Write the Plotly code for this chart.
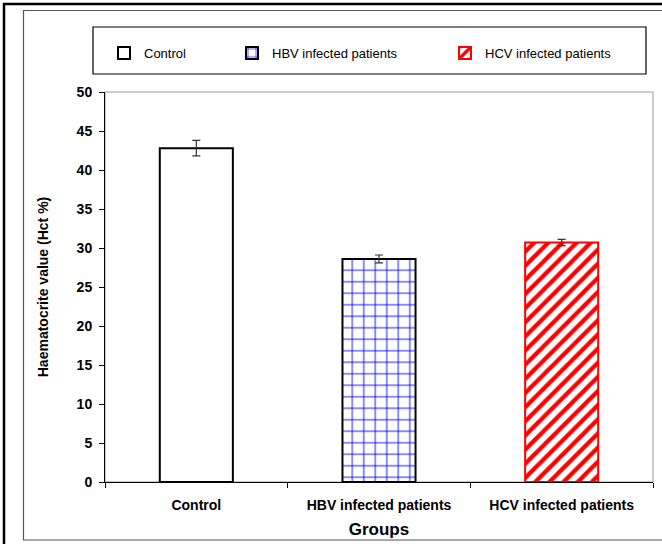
import plotly.graph_objects as go

groups = ["Control", "HBV infected patients", "HCV infected patients"]
values = [42.8, 28.6, 30.7]
errors = [1.0, 0.5, 0.4]
fill_colors = ["white", "white", "white"]
pattern_colors = ["black", "#0000FF", "#FF0000"]
pattern_shapes = ["", "+", "/"]
line_colors = ["black", "black", "#FF0000"]
y_ticks = list(range(0, 51, 5))

FONT = "Liberation Sans, Arial, sans-serif"

fig = go.Figure()
legends = ["legend", "legend2", "legend3"]
pat_sizes = [10, 11.5, 10]
pat_solid = [0.3, 0.15, 0.42]
for i, g in enumerate(groups):
    fig.add_trace(go.Bar(
        x=[g], y=[values[i]], name=g,
        width=0.4,
        marker=dict(
            color=fill_colors[i],
            line=dict(color=line_colors[i], width=2),
            pattern=dict(shape=pattern_shapes[i], fgcolor=pattern_colors[i],
                         bgcolor="white", size=pat_sizes[i], fgopacity=1,
                         solidity=pat_solid[i], fillmode="overlay"),
        ),
        error_y=dict(type="data", array=[errors[i]], color="#333333",
                     thickness=1.2, width=4),
        legend=legends[i],
        showlegend=True,
    ))

W, H = 662, 544
L, R, T, B = 105, 653, 92, 482
pw, ph = R - L, B - T

def px(x):
    return (x - L) / pw

def py(y):
    return (B - y) / ph

leg_common = dict(orientation="h", yanchor="middle", xanchor="left",
                  bgcolor="rgba(0,0,0,0)", borderwidth=0,
                  font=dict(family=FONT, size=13, color="black"),
                  itemwidth=30)

fig.update_layout(
    width=W, height=H,
    margin=dict(l=L, r=W - R, t=T, b=H - B, pad=0),
    paper_bgcolor="white", plot_bgcolor="white",
    font=dict(family=FONT, color="black"),
    legend=dict(x=px(104), y=py(53), **leg_common),
    legend2=dict(x=px(232), y=py(53), **leg_common),
    legend3=dict(x=px(445), y=py(53), **leg_common),
    xaxis=dict(
        showline=True, linecolor="black", linewidth=1,
        ticks="outside", ticklen=5, tickcolor="black", tickson="boundaries",
        tickfont=dict(family=FONT, size=14, color="black", weight="bold"),
        ticklabelstandoff=10,
        title=dict(text="<b>Groups</b>", font=dict(family=FONT, size=17, color="black"),
                   standoff=11),
        showgrid=False,
    ),
    yaxis=dict(
        range=[0, 50], tickvals=y_ticks,
        showline=True, linecolor="black", linewidth=1,
        ticks="outside", ticklen=5, tickcolor="black",
        ticklabelstandoff=4,
        tickfont=dict(family=FONT, size=14, color="black", weight="bold"),
        title=dict(text="<b>Haematocrite value (Hct %)</b>",
                   font=dict(family=FONT, size=14, color="black"), standoff=24),
        showgrid=False, zeroline=False,
    ),
    shapes=[
        dict(type="rect", xref="paper", yref="paper",
             x0=px(4), x1=px(675), y0=py(4), y1=py(560),
             line=dict(color="black", width=2.5), layer="below"),
        dict(type="rect", xref="paper", yref="paper",
             x0=px(23.5), x1=px(675), y0=py(10.5), y1=py(540),
             line=dict(color="#555555", width=1.2), layer="below"),
        dict(type="rect", xref="paper", yref="paper",
             x0=px(93), x1=px(646), y0=py(27), y1=py(74),
             line=dict(color="black", width=1.2), layer="below"),
        dict(type="rect", xref="paper", yref="paper",
             x0=0, x1=1, y0=0, y1=1,
             line=dict(color="#999999", width=1), layer="below"),
    ],
)

fig.write_html(
    "out.html",
    config={"displayModeBar": False},
    post_script="document.body.style.margin='0';document.body.style.overflow='hidden';",
)
